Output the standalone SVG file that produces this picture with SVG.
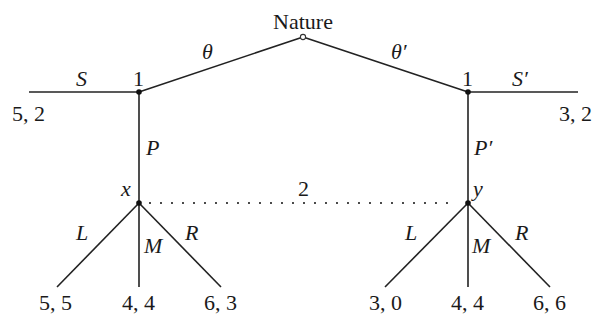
<svg xmlns="http://www.w3.org/2000/svg" width="596" height="320" viewBox="0 0 596 320">
<style>
text{font-family:"Liberation Serif","Times New Roman",serif;font-size:22px;fill:#1a1a1a}
.i{font-style:italic}
.e{stroke:#222;stroke-width:1.6;fill:none}
.d{stroke:#222;stroke-width:2.2;stroke-linecap:round;stroke-dasharray:0 11;fill:none}
.dot{fill:#111}
</style>
<rect width="596" height="320" fill="#fff"/>
<g id="connectors">
<line class="e" x1="303" y1="37" x2="139" y2="92"/>
<line class="e" x1="303" y1="37" x2="468" y2="92"/>
<line class="e" x1="29" y1="92" x2="139" y2="92"/>
<line class="e" x1="468" y1="92" x2="578" y2="92"/>
<line class="e" x1="139" y1="92" x2="139" y2="203"/>
<line class="e" x1="468" y1="92" x2="468" y2="203"/>
<line class="e" x1="139" y1="203" x2="57" y2="287"/>
<line class="e" x1="139" y1="203" x2="139" y2="287"/>
<line class="e" x1="139" y1="203" x2="221" y2="287"/>
<line class="e" x1="468" y1="203" x2="385" y2="287"/>
<line class="e" x1="468" y1="203" x2="468" y2="287"/>
<line class="e" x1="468" y1="203" x2="550" y2="287"/>
<line class="d" x1="150" y1="203" x2="458" y2="203"/>
<text class="i" x="202" y="59">θ</text>
<text class="i" x="391" y="59">θ′</text>
<text class="i" x="76" y="86">S</text>
<text class="i" x="512" y="86">S′</text>
<text class="i" x="146" y="155">P</text>
<text class="i" x="474" y="155">P′</text>
<text class="i" x="76" y="240">L</text>
<text class="i" x="144" y="253">M</text>
<text class="i" x="185" y="240">R</text>
<text class="i" x="405" y="240">L</text>
<text class="i" x="472" y="253">M</text>
<text class="i" x="515" y="240">R</text>
<text x="298" y="196">2</text>
</g>
<g id="nature">
<circle cx="303" cy="37" r="2.6" fill="#fff" stroke="#333" stroke-width="1.1"/>
<text x="303" y="29" text-anchor="middle">Nature</text>
</g>
<g id="node1-left">
<circle class="dot" cx="139" cy="92" r="2.8"/>
<text x="138.5" y="86" text-anchor="middle">1</text>
</g>
<g id="node1-right">
<circle class="dot" cx="468" cy="92" r="2.8"/>
<text x="467.5" y="86" text-anchor="middle">1</text>
</g>
<g id="node-x">
<circle class="dot" cx="139" cy="203" r="2.8"/>
<text class="i" x="121" y="196">x</text>
</g>
<g id="node-y">
<circle class="dot" cx="468" cy="203" r="2.8"/>
<text class="i" x="473" y="196">y</text>
</g>
<g id="payoff-S"><text x="12" y="121">5, 2</text></g>
<g id="payoff-S2"><text x="559" y="121">3, 2</text></g>
<g id="payoff-xL"><text x="39" y="310">5, 5</text></g>
<g id="payoff-xM"><text x="122" y="310">4, 4</text></g>
<g id="payoff-xR"><text x="204" y="310">6, 3</text></g>
<g id="payoff-yL"><text x="369" y="310">3, 0</text></g>
<g id="payoff-yM"><text x="451" y="310">4, 4</text></g>
<g id="payoff-yR"><text x="533" y="310">6, 6</text></g>
</svg>
